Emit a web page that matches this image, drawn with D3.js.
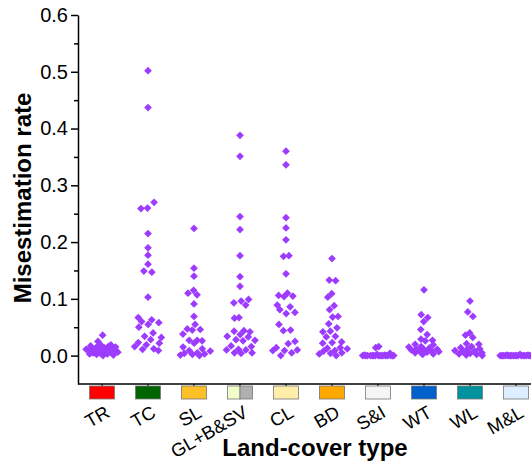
<!DOCTYPE html>
<html>
<head>
<meta charset="utf-8">
<script src="https://cdn.jsdelivr.net/npm/d3@7"></script>
<style>
  body { margin: 0; background: #fff; }
  svg { font-family: "Liberation Sans", Arial, sans-serif; }
</style>
</head>
<body>
<div id="chart"></div>
<script>
// land-cover categories and their legend box colours
var categories = ["TR", "TC", "SL", "GL+B&SV", "CL", "BD", "S&I", "WT", "WL", "M&L"];
var boxColors = [["#ff0000"], ["#006400"], ["#ffbf26"], ["#efffc9", "#b0b0b0"], ["#ffeda8"],
                 ["#ffa800"], ["#f5f5f5"], ["#0060cc"], ["#00939f"], ["#dceeff"]];

// misestimation rate per category
var trValues = [0.036, 0.025, 0.019, 0.018, 0.017, 0.016, 0.015, 0.015, 0.014, 0.013, 0.012, 0.012, 0.011,
                0.010, 0.010, 0.009, 0.009, 0.008, 0.008, 0.007, 0.006, 0.006, 0.005, 0.005, 0.004, 0.003,
                0.003, 0.002, 0.001, 0.000];
var tcValues = [0.502, 0.437, 0.270, 0.260, 0.259, 0.215, 0.190, 0.177, 0.161, 0.149, 0.147, 0.103, 0.067,
                0.063, 0.060, 0.058, 0.055, 0.050, 0.040, 0.034, 0.032, 0.028, 0.023, 0.022, 0.019, 0.016,
                0.012, 0.011, 0.009];
var slValues = [0.224, 0.154, 0.140, 0.115, 0.110, 0.107, 0.091, 0.069, 0.055, 0.047, 0.046, 0.045, 0.038,
                0.027, 0.027, 0.026, 0.022, 0.015, 0.012, 0.009, 0.008, 0.005, 0.004, 0.003, 0.002, 0.001,
                0.000];
var glValues = [0.388, 0.351, 0.245, 0.222, 0.176, 0.139, 0.122, 0.099, 0.096, 0.093, 0.089, 0.067, 0.066,
                0.044, 0.043, 0.042, 0.037, 0.034, 0.033, 0.028, 0.027, 0.026, 0.017, 0.016, 0.011, 0.010,
                0.010, 0.005, 0.005, 0.004];
var clValues = [0.360, 0.336, 0.243, 0.225, 0.204, 0.176, 0.175, 0.144, 0.110, 0.106, 0.105, 0.104, 0.089,
                0.086, 0.081, 0.076, 0.074, 0.055, 0.045, 0.044, 0.025, 0.021, 0.014, 0.010, 0.009, 0.009,
                0.005, 0.000];
var bdValues = [0.171, 0.133, 0.132, 0.109, 0.103, 0.088, 0.081, 0.069, 0.068, 0.056, 0.049, 0.043, 0.042,
                0.034, 0.033, 0.024, 0.023, 0.022, 0.014, 0.013, 0.012, 0.009, 0.008, 0.005, 0.004, 0.003,
                0.000];
var siValues = [0.016, 0.014, 0.004, 0.002, 0.001, 0.001, 0.000, 0.000, 0.000, 0.000, 0.000, 0.000, 0.000,
                0.000, 0.000, 0.000, 0.000, 0.000, 0.000, 0.000, 0.000, 0.000];
var wtValues = [0.116, 0.072, 0.067, 0.060, 0.046, 0.037, 0.029, 0.027, 0.026, 0.020, 0.019, 0.016, 0.015,
                0.013, 0.012, 0.011, 0.010, 0.010, 0.008, 0.008, 0.007, 0.006, 0.005, 0.003, 0.002];
var wlValues = [0.096, 0.077, 0.069, 0.040, 0.036, 0.032, 0.021, 0.020, 0.016, 0.014, 0.012, 0.011, 0.009,
                0.008, 0.007, 0.005, 0.004, 0.003, 0.002, 0.001, 0.000];
var mlValues = [0.002, 0.001, 0.001, 0.000, 0.000, 0.000, 0.000, 0.000, 0.000, 0.000, 0.000, 0.000, 0.000,
                0.000, 0.000, 0.000, 0.000, 0.000, 0.000, 0.000];

var yTicks = [0.0, 0.1, 0.2, 0.3, 0.4, 0.5, 0.6];
var yMinorTicks = [0.05, 0.15, 0.25, 0.35, 0.45, 0.55];

var series = [trValues, tcValues, slValues, glValues, clValues, bdValues, siValues, wtValues, wlValues, mlValues];

var width = 531, height = 466;
var plotLeft = 78, plotTop = 15, plotBottom = 384;

var svg = d3.select("#chart").append("svg")
  .attr("width", width)
  .attr("height", height);

var x = d3.scaleBand()
  .domain(categories)
  .range([plotLeft + 1, plotLeft + 1 + 46 * categories.length]);

var y = d3.scaleLinear()
  .domain([-0.05, 0.6])
  .range([plotBottom, plotTop]);

// spread points sideways by local density, like a distribution jitter
function spread(vals, maxW) {
  var dens = vals.map(function(v) {
    return vals.filter(function(u) { return Math.abs(u - v) < 0.012; }).length;
  });
  var maxD = d3.max(dens);
  return vals.map(function(v, i) {
    var w = dens[i] < 2 ? 0 : maxW * Math.pow(dens[i] / maxD, 0.7);
    var g = ((i + 1) * 0.618034) % 1;
    return (g * 2 - 1) * w;
  });
}

var points = [];
series.forEach(function(vals, ci) {
  var offs = spread(vals, 17);
  vals.forEach(function(v, i) {
    points.push({cat: categories[ci], value: v, dx: offs[i]});
  });
});

// y axis with major and minor ticks
svg.append("g")
  .attr("transform", "translate(" + plotLeft + ",0)")
  .call(d3.axisLeft(y).tickValues(yMinorTicks).tickSize(4).tickSizeOuter(0).tickFormat(""))
  .call(function(g) { g.select(".domain").remove(); })
  .selectAll("line").attr("stroke-width", 1.5);

var yAxis = svg.append("g")
  .attr("transform", "translate(" + plotLeft + ",0)")
  .call(d3.axisLeft(y).tickValues(yTicks).tickSize(7).tickSizeOuter(0).tickPadding(3)
    .tickFormat(d3.format(".1f")));
yAxis.select(".domain").attr("stroke-width", 1.5);
yAxis.selectAll("line").attr("stroke-width", 1.5);
yAxis.selectAll("text").attr("font-size", 20).attr("font-family", "Liberation Sans, Arial").attr("fill", "#000");

// x axis line and ticks
var xAxis = svg.append("g")
  .attr("transform", "translate(0," + plotBottom + ")")
  .call(d3.axisBottom(x).tickSize(3).tickSizeOuter(0).tickFormat(""));
xAxis.select(".domain").attr("d", "M" + plotLeft + ",0H" + width).attr("stroke-width", 1.5);
xAxis.selectAll("line").attr("stroke-width", 1.2);

// colour boxes under each category
var boxW = 25, boxY = 386, boxH = 13;
var boxes = svg.append("g");
categories.forEach(function(c, i) {
  var cx = x(c) + x.bandwidth() / 2;
  var cols = boxColors[i];
  var pw = boxW / cols.length;
  cols.forEach(function(col, j) {
    boxes.append("rect")
      .attr("x", cx - boxW / 2 + j * pw)
      .attr("y", boxY)
      .attr("width", pw)
      .attr("height", boxH)
      .attr("fill", col)
      .attr("stroke", "#777")
      .attr("stroke-width", 0.8);
  });
});

// rotated category labels
svg.append("g").selectAll("text")
  .data(categories)
  .enter().append("text")
    .attr("transform", function(d) {
      return "translate(" + (x(d) + x.bandwidth() / 2 + 9) + ",416) rotate(-30)";
    })
    .attr("text-anchor", "end")
    .attr("font-size", 18.5)
    .text(function(d) { return d; });

// scatter markers
svg.append("g").selectAll("path")
  .data(points)
  .enter().append("path")
    .attr("d", d3.symbol().type(d3.symbolSquare).size(30))
    .attr("transform", function(d) {
      return "translate(" + (x(d.cat) + x.bandwidth() / 2 + d.dx) + "," + y(d.value) + ") rotate(45)";
    })
    .attr("fill", "#9d3cff");

// axis titles
svg.append("text")
  .attr("transform", "translate(31,198) rotate(-90)")
  .attr("text-anchor", "middle")
  .attr("font-size", 24)
  .attr("font-weight", "bold")
  .text("Misestimation rate");

svg.append("text")
  .attr("x", 315)
  .attr("y", 456)
  .attr("text-anchor", "middle")
  .attr("font-size", 24)
  .attr("font-weight", "bold")
  .text("Land-cover type");
</script>
</body>
</html>
